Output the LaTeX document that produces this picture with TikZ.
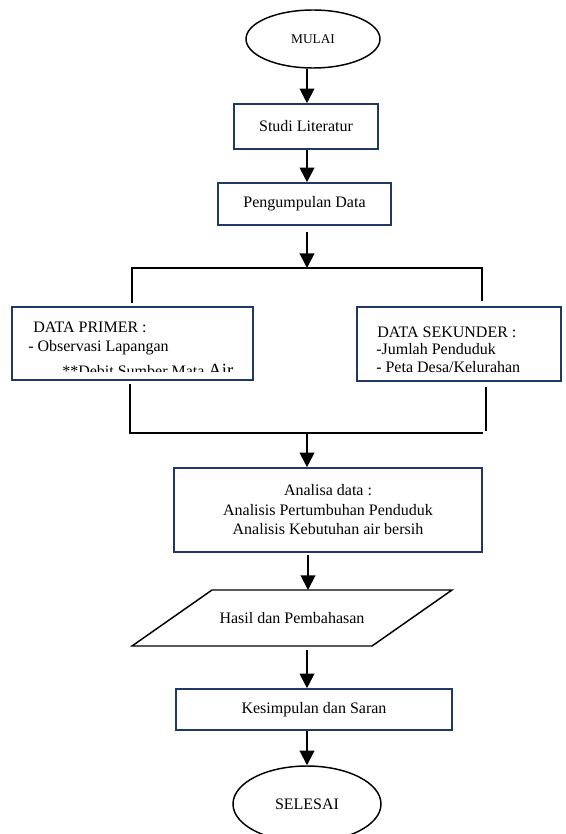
\documentclass[tikz,border=0pt]{standalone}
\usepackage{fontspec}
\setmainfont{Liberation Serif}
\usetikzlibrary{arrows.meta,shapes.geometric}
\definecolor{navy}{RGB}{31,56,100}
\begin{document}
\begin{tikzpicture}[x=0.75pt,y=-0.75pt,
 box/.style={draw=navy,line width=1.2pt,inner sep=0pt,align=center,font=\fontsize{12}{14}\selectfont},
 term/.style={ellipse,draw=black,line width=1.1pt,inner sep=0pt,font=\fontsize{12}{14}\selectfont},
 arr/.style={line width=1.5pt,-{Triangle[width=11pt,length=11pt]}},
 ln/.style={line width=1.5pt},
 txt/.style={inner sep=0pt,anchor=base west,font=\fontsize{12}{14}\selectfont},
 ctxt/.style={inner sep=0pt,anchor=base,font=\fontsize{12}{14}\selectfont}]
\useasboundingbox[fill=white] (0,0) rectangle (566,834);

% terminals
\node[term,minimum width=100.5pt,minimum height=43.5pt,font=\fontsize{10}{12}\selectfont] (mulai) at (313,39) {MULAI};
\node[term,minimum width=111pt,minimum height=57pt] (selesai) at (307,804) {SELESAI};

% process boxes
\node[box,minimum width=108pt,minimum height=33.75pt] (studi) at (306,126.5) {Studi Literatur};
\node[box,minimum width=129.75pt,minimum height=31.5pt] (kumpul) at (304.5,204) {Pengumpulan Data};
\node[box,minimum width=180.75pt,minimum height=54.75pt] (primer) at (132.5,343.5) {};
\node[box,minimum width=153pt,minimum height=55.5pt] (sekunder) at (459,344) {};
\node[box,minimum width=231pt,minimum height=63pt] (analisa) at (328,510) {};
\node[box,minimum width=207pt,minimum height=30.75pt] (simpul) at (314,709.5) {Kesimpulan dan Saran};

% box texts
\node[txt] (p1) at (33,332) {DATA PRIMER :};
\node[txt] (p2) at (28,351) {- Observasi Lapangan};
\begin{scope}
 \clip (14,309) rectangle (251,371);
 \node[txt] (p3) at (62,376) {**Debit Sumber Mata {\fontsize{14}{16}\selectfont Air}};
\end{scope}
\node[txt] (s1) at (377,337) {DATA SEKUNDER :};
\node[txt] (s2) at (376,354) {-Jumlah Penduduk};
\node[txt] (s3) at (376,372) {- Peta Desa/Kelurahan};
\node[ctxt] (a1) at (328,495) {Analisa data :};
\node[ctxt] (a2) at (328,515) {Analisis Pertumbuhan Penduduk};
\node[ctxt] (a3) at (328,534) {Analisis Kebutuhan air bersih};

% input/output parallelogram
\draw[line width=1.1pt] (212,590) -- (452,590) -- (372,646) -- (132,646) -- cycle;
\node[inner sep=0pt,font=\fontsize{12}{14}\selectfont] (hasil) at (292,618) {Hasil dan Pembahasan};
\coordinate (hasilN) at (308,590);
\coordinate (hasilS) at (307,650);

% branch coordinates
\coordinate (topJ) at (307,268);
\coordinate (topL) at (132,268);
\coordinate (topR) at (482,268);
\coordinate (pTop) at (132,303);
\coordinate (sTop) at (482,301);
\coordinate (pBot) at (130,384);
\coordinate (sBot) at (486,387);
\coordinate (botL) at (130,433);
\coordinate (botL2) at (129,433);
\coordinate (botR) at (486,431);
\coordinate (botR2) at (483,433);
\coordinate (botJ) at (307,433);

% connectors
\draw[arr] (mulai.south -| 307,0) -- (studi.north -| 307,0);
\draw[arr] (studi.south -| 307,0) -- (kumpul.north -| 307,0);
\draw[arr] ([yshift=-4.5pt]kumpul.south -| 307,0) -- (topJ);
\draw[ln] (pTop) -- (topL) -- (topR) -- (sTop);
\draw[ln] (pBot) -- (botL);
\draw[ln] (sBot) -- (botR);
\draw[ln] (botL2) -- (botR2);
\draw[arr] (botJ) -- (analisa.north -| 307,0);
\draw[arr] ([yshift=-2pt]analisa.south -| 308,0) -- (hasilN);
\draw[arr] (hasilS) -- (simpul.north -| 307,0);
\draw[arr] (simpul.south -| 307,0) -- (selesai.north);
\end{tikzpicture}
\end{document}
